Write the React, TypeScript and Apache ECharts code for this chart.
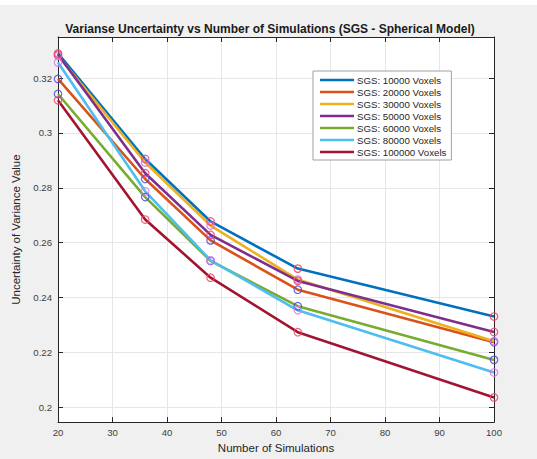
import React, { useEffect, useRef } from "react";
import * as echarts from "echarts";

const simulations = [20, 36, 48, 64, 100];
const seriesNames = [
  "SGS: 10000 Voxels",
  "SGS: 20000 Voxels",
  "SGS: 30000 Voxels",
  "SGS: 50000 Voxels",
  "SGS: 60000 Voxels",
  "SGS: 80000 Voxels",
  "SGS: 100000 Voxels",
];
const v10000 = [0.329, 0.2905, 0.2677, 0.2505, 0.233];
const v20000 = [0.3197, 0.2832, 0.2608, 0.2428, 0.2236];
const v30000 = [0.3282, 0.2892, 0.2662, 0.2465, 0.224];
const v50000 = [0.3286, 0.2853, 0.2628, 0.246, 0.2274];
const v60000 = [0.3142, 0.2766, 0.2533, 0.2368, 0.2172];
const v80000 = [0.3257, 0.2787, 0.2535, 0.2353, 0.2126];
const v100000 = [0.3119, 0.2684, 0.2472, 0.2273, 0.2035];
const allValues = [v10000, v20000, v30000, v50000, v60000, v80000, v100000];

const lineColors = ["#0072BD", "#D95319", "#EDB120", "#7E2F8E", "#77AC30", "#4DBEEE", "#A2142F"];
const markerColors = ["#ee4466", "#4a4ae0", "#d866e8", "#ee4466", "#4a4ae0", "#dd77ee", "#ee4466"];

const FONT = "Liberation Sans, Arial, Helvetica, sans-serif";

export default function App() {
  const ref = useRef<HTMLDivElement>(null);
  useEffect(() => {
    if (!ref.current) return;
    const chart = echarts.init(ref.current, undefined, { renderer: "svg" });
    const lineSeries = allValues.map((vals, i) => ({
      name: seriesNames[i],
      type: "line",
      data: vals.map((v, j) => [simulations[j], v]),
      symbol: "none",
      color: lineColors[i],
      lineStyle: { width: 2.6, color: lineColors[i] },
      z: 2,
    }));
    const markerSeries = allValues.map((vals, i) => ({
      name: "m" + i,
      type: "scatter",
      data: vals.map((v, j) => [simulations[j], v]),
      symbol: "circle",
      symbolSize: 7.5,
      itemStyle: { color: "rgba(0,0,0,0)", borderColor: markerColors[i], borderWidth: 1.2, opacity: 0.85 },
      z: 3,
      silent: true,
    }));
    const yFmt = (v: number) => {
      const k = v / 0.02;
      if (Math.abs(k - Math.round(k)) > 1e-6) return "";
      return String(+v.toFixed(2));
    };
    chart.setOption({
      animation: false,
      backgroundColor: "#f0f0f0",
      textStyle: { fontFamily: FONT },
      graphic: [
        { type: "rect", left: 0, top: 0, shape: { width: 537, height: 5 }, style: { fill: "#ffffff" }, silent: true },
      ],
      title: {
        text: "Varianse Uncertainty vs Number of Simulations (SGS - Spherical Model)",
        left: 270,
        textAlign: "center",
        top: 23,
        padding: 0,
        textStyle: { fontFamily: FONT, fontSize: 12, fontWeight: "bold", color: "#1a1a1a" },
      },
      legend: {
        data: seriesNames,
        orient: "vertical",
        left: 313,
        top: 71,
        icon: "rect",
        itemWidth: 34,
        itemHeight: 2.6,
        itemGap: 0,
        padding: [3, 5, 2, 7],
        backgroundColor: "#ffffff",
        borderColor: "#a0a0a0",
        borderWidth: 1,
        borderRadius: 0,
        textStyle: { fontFamily: FONT, fontSize: 9.7, lineHeight: 12, color: "#262626", padding: [0, 0, 0, -2] },
      },
      grid: {
        left: 58,
        right: 43,
        top: 37,
        bottom: 36,
        show: true,
        backgroundColor: "#ffffff",
        borderWidth: 0,
      },
      xAxis: [
        {
          type: "value",
          min: 20,
          max: 100,
          interval: 10,
          name: "Number of Simulations",
          nameLocation: "middle",
          nameGap: 18,
          nameTextStyle: { fontFamily: FONT, fontSize: 11.5, color: "#262626" },
          axisLine: { show: true, lineStyle: { color: "#262626", width: 1 } },
          axisTick: { show: true, inside: true, length: 5, lineStyle: { color: "#262626" } },
          axisLabel: { fontFamily: FONT, fontSize: 9.6, color: "#404040", margin: 5 },
          splitLine: { show: true, lineStyle: { color: "#e6e6e6", width: 1 } },
        },
        {
          type: "value",
          position: "top",
          min: 20,
          max: 100,
          interval: 10,
          axisLine: { show: true, lineStyle: { color: "#262626", width: 1 } },
          axisTick: { show: true, inside: true, length: 5, lineStyle: { color: "#262626" } },
          axisLabel: { show: false },
          splitLine: { show: false },
        },
      ],
      yAxis: [
        {
          type: "value",
          min: 0.1945,
          max: 0.335,
          splitNumber: 7,
          name: "Uncertainty of Variance Value",
          nameLocation: "middle",
          nameGap: 28,
          nameTextStyle: { fontFamily: FONT, fontSize: 11.5, color: "#262626" },
          axisLine: { show: true, lineStyle: { color: "#262626", width: 1 } },
          axisTick: { show: true, inside: true, length: 5, lineStyle: { color: "#262626" } },
          axisLabel: { fontFamily: FONT, fontSize: 9.6, color: "#404040", margin: 6, formatter: yFmt, showMinLabel: false, showMaxLabel: false },
          splitLine: { show: true, lineStyle: { color: "#e6e6e6", width: 1 } },
        },
        {
          type: "value",
          position: "right",
          min: 0.1945,
          max: 0.335,
          splitNumber: 7,
          axisLine: { show: true, lineStyle: { color: "#262626", width: 1 } },
          axisTick: { show: true, inside: true, length: 5, lineStyle: { color: "#262626" } },
          axisLabel: { show: false },
          splitLine: { show: false },
        },
      ],
      series: [...lineSeries, ...markerSeries],
    });
    return () => chart.dispose();
  }, []);
  return (
    <div
      ref={ref}
      style={{ position: "absolute", left: 0, top: 0, width: 537, height: 459 }}
    />
  );
}
